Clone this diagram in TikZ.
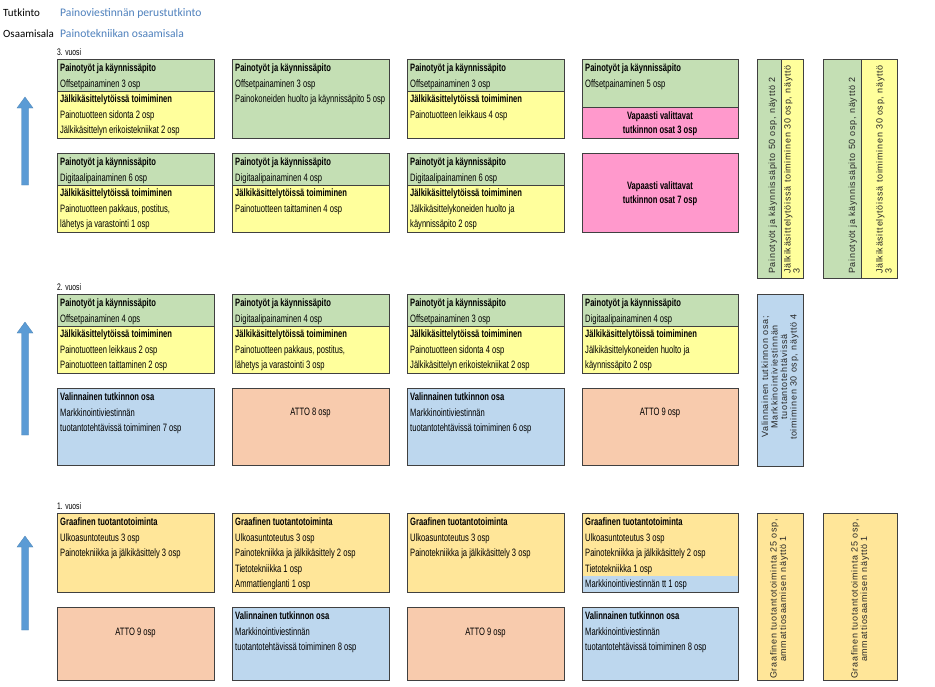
\documentclass[tikz,border=0pt]{standalone}
\usepackage{fontspec}
\setmainfont{Liberation Sans}
\newfontfamily\narrowfont[FakeStretch=0.71]{Liberation Sans}
\newfontfamily\vfont[LetterSpace=8]{Liberation Sans}
\newfontfamily\calibfont{Carlito}
\definecolor{grn}{HTML}{C4DFB4}
\definecolor{ylw}{HTML}{FFFF9C}
\definecolor{pnk}{HTML}{FF99CC}
\definecolor{lblue}{HTML}{BDD7EE}
\definecolor{peach}{HTML}{F8CBAD}
\definecolor{gold}{HTML}{FFE699}
\definecolor{arrowblue}{HTML}{5B9BD5}
\definecolor{titleblue}{HTML}{4F81BD}
\definecolor{edge}{HTML}{404040}
\newcommand\boxlines[4]{%
  \foreach \t [count=\i] in {#4} {
    \node[txt] (#1-\i) at (#2, {#3+15.5*(\i-1)}) {\t};
  }%
}
\begin{document}
\begin{tikzpicture}[x=1pt,y=-1pt,
  txt/.style={anchor=west,inner sep=0pt,font=\narrowfont\fontsize{10.7}{12}\selectfont,text height=8.5pt,text depth=1.5pt},
  ctxt/.style={txt,anchor=center},
  vtxt/.style={inner sep=0pt,font=\vfont\fontsize{9}{10}\selectfont,text=black!85,text height=6.5pt,text depth=1.5pt,rotate=90},
  frame/.style={draw=edge,line width=0.9pt},
  yearlbl/.style={anchor=west,inner sep=0pt,font=\narrowfont\fontsize{9.5}{11}\selectfont},
  hdr/.style={anchor=west,inner sep=0pt,font=\calibfont\fontsize{11}{13}\selectfont},
  hdrb/.style={hdr,font=\calibfont\fontsize{11.6}{13}\selectfont,text=titleblue},
  uparrow/.style={fill=arrowblue,draw=arrowblue!85!black,line width=0.3pt}
]
\useasboundingbox (0,0) rectangle (935,686);
\fill[white] (0,0) rectangle (935,686);

% header
\node[hdr] (h1) at (3,13) {Tutkinto};
\node[hdrb] (h2) at (60,13) {Painoviestinnän perustutkinto};
\node[hdr] (h3) at (3,34) {Osaamisala};
\node[hdrb] (h4) at (60,34) {Painotekniikan osaamisala};

% year labels
\node[yearlbl] (y3) at (57,52) {3. vuosi};
\node[yearlbl] (y2) at (57,287) {2. vuosi};
\node[yearlbl] (y1) at (57,506) {1. vuosi};

% arrows
\foreach \nm/\top/\bot in {a3/97/185, a2/322/435, a1/536/630} {
  \filldraw[uparrow] (21.5,\bot) -- (21.5,\top+11) -- (17,\top+11) -- (25,\top) -- (33,\top+11) -- (28.5,\top+11) -- (28.5,\bot) -- cycle;
}

% ================= YEAR 3 =================
% row A
\fill[grn] (57,59) rectangle (214,91); \fill[ylw] (57,91) rectangle (214,138);
\draw[frame] (57,91) -- (214,91); \draw[frame] (57,59) rectangle (214,138);
\boxlines{r3a1}{60}{68}{\textbf{Painotyöt ja käynnissäpito},Offsetpainaminen 3 osp,\textbf{Jälkikäsittelytöissä toimiminen},Painotuotteen sidonta 2 osp,Jälkikäsittelyn erikoistekniikat 2 osp}

\fill[grn] (232,59) rectangle (389,138); \draw[frame] (232,59) rectangle (389,138);
\boxlines{r3a2}{235}{68}{\textbf{Painotyöt ja käynnissäpito},Offsetpainaminen 3 osp,Painokoneiden huolto ja käynnissäpito 5 osp}

\fill[grn] (407,59) rectangle (564,91); \fill[ylw] (407,91) rectangle (564,138);
\draw[frame] (407,91) -- (564,91); \draw[frame] (407,59) rectangle (564,138);
\boxlines{r3a3}{410}{68}{\textbf{Painotyöt ja käynnissäpito},Offsetpainaminen 3 osp,\textbf{Jälkikäsittelytöissä toimiminen},Painotuotteen leikkaus 4 osp}

\fill[grn] (582,59) rectangle (738,107); \fill[pnk] (582,107) rectangle (738,138);
\draw[frame] (582,107) -- (738,107); \draw[frame] (582,59) rectangle (738,138);
\boxlines{r3a4}{585}{68}{\textbf{Painotyöt ja käynnissäpito},Offsetpainaminen 5 osp}
\node[ctxt] (r3a4p1) at (660,115.5) {\textbf{Vapaasti valittavat}};
\node[ctxt] (r3a4p2) at (660,129.5) {\textbf{tutkinnon osat 3 osp}};

% row B
\fill[grn] (57,153) rectangle (214,185); \fill[ylw] (57,185) rectangle (214,232);
\draw[frame] (57,185) -- (214,185); \draw[frame] (57,153) rectangle (214,232);
\boxlines{r3b1}{60}{162}{\textbf{Painotyöt ja käynnissäpito},Digitaalipainaminen 6 osp,\textbf{Jälkikäsittelytöissä toimiminen},{Painotuotteen pakkaus, postitus,},lähetys ja varastointi 1 osp}

\fill[grn] (232,153) rectangle (389,185); \fill[ylw] (232,185) rectangle (389,232);
\draw[frame] (232,185) -- (389,185); \draw[frame] (232,153) rectangle (389,232);
\boxlines{r3b2}{235}{162}{\textbf{Painotyöt ja käynnissäpito},Digitaalipainaminen 4 osp,\textbf{Jälkikäsittelytöissä toimiminen},Painotuotteen taittaminen 4 osp}

\fill[grn] (407,153) rectangle (564,185); \fill[ylw] (407,185) rectangle (564,232);
\draw[frame] (407,185) -- (564,185); \draw[frame] (407,153) rectangle (564,232);
\boxlines{r3b3}{410}{162}{\textbf{Painotyöt ja käynnissäpito},Digitaalipainaminen 6 osp,\textbf{Jälkikäsittelytöissä toimiminen},Jälkikäsittelykoneiden huolto ja,käynnissäpito 2 osp}

\fill[pnk] (582,153) rectangle (738,232); \draw[frame] (582,153) rectangle (738,232);
\node[ctxt] (r3b4p1) at (660,186) {\textbf{Vapaasti valittavat}};
\node[ctxt] (r3b4p2) at (660,200) {\textbf{tutkinnon osat 7 osp}};

% ================= YEAR 2 =================
\fill[grn] (57,294) rectangle (214,326); \fill[ylw] (57,326) rectangle (214,373);
\draw[frame] (57,326) -- (214,326); \draw[frame] (57,294) rectangle (214,373);
\boxlines{r2a1}{60}{303}{\textbf{Painotyöt ja käynnissäpito},Offsetpainaminen 4 ops,\textbf{Jälkikäsittelytöissä toimiminen},Painotuotteen leikkaus 2 osp,Painotuotteen taittaminen 2 osp}

\fill[grn] (232,294) rectangle (389,326); \fill[ylw] (232,326) rectangle (389,373);
\draw[frame] (232,326) -- (389,326); \draw[frame] (232,294) rectangle (389,373);
\boxlines{r2a2}{235}{303}{\textbf{Painotyöt ja käynnissäpito},Digitaalipainaminen 4 osp,\textbf{Jälkikäsittelytöissä toimiminen},{Painotuotteen pakkaus, postitus,},lähetys ja varastointi 3 osp}

\fill[grn] (407,294) rectangle (564,326); \fill[ylw] (407,326) rectangle (564,373);
\draw[frame] (407,326) -- (564,326); \draw[frame] (407,294) rectangle (564,373);
\boxlines{r2a3}{410}{303}{\textbf{Painotyöt ja käynnissäpito},Offsetpainaminen 3 osp,\textbf{Jälkikäsittelytöissä toimiminen},Painotuotteen sidonta 4 osp,Jälkikäsittelyn erikoistekniikat 2 osp}

\fill[grn] (582,294) rectangle (738,326); \fill[ylw] (582,326) rectangle (738,373);
\draw[frame] (582,326) -- (738,326); \draw[frame] (582,294) rectangle (738,373);
\boxlines{r2a4}{585}{303}{\textbf{Painotyöt ja käynnissäpito},Digitaalipainaminen 4 osp,\textbf{Jälkikäsittelytöissä toimiminen},Jälkikäsittelykoneiden huolto ja,käynnissäpito 2 osp}

\filldraw[frame,fill=lblue] (57,388) rectangle (214,465);
\boxlines{r2b1}{60}{397}{\textbf{Valinnainen tutkinnon osa},Markkinointiviestinnän,tuotantotehtävissä toimiminen 7 osp}
\filldraw[frame,fill=peach] (232,388) rectangle (389,465);
\node[ctxt] (r2b2) at (310.5,412) {ATTO 8 osp};
\filldraw[frame,fill=lblue] (407,388) rectangle (564,465);
\boxlines{r2b3}{410}{397}{\textbf{Valinnainen tutkinnon osa},Markkinointiviestinnän,tuotantotehtävissä toimiminen 6 osp}
\filldraw[frame,fill=peach] (582,388) rectangle (738,465);
\node[ctxt] (r2b4) at (660,412) {ATTO 9 osp};

% ================= YEAR 1 =================
\filldraw[frame,fill=gold] (57,513) rectangle (214,592);
\boxlines{r1a1}{60}{522}{\textbf{Graafinen tuotantotoiminta},Ulkoasuntoteutus 3 osp,Painotekniikka ja jälkikäsittely 3 osp}
\filldraw[frame,fill=gold] (232,513) rectangle (389,592);
\boxlines{r1a2}{235}{522}{\textbf{Graafinen tuotantotoiminta},Ulkoasuntoteutus 3 osp,Painotekniikka ja jälkikäsittely 2 osp,Tietotekniikka 1 osp,Ammattienglanti 1 osp}
\filldraw[frame,fill=gold] (407,513) rectangle (564,592);
\boxlines{r1a3}{410}{522}{\textbf{Graafinen tuotantotoiminta},Ulkoasuntoteutus 3 osp,Painotekniikka ja jälkikäsittely 3 osp}
\fill[gold] (582,513) rectangle (738,576); \fill[lblue] (582,576) rectangle (738,592);
\draw[frame] (582,513) rectangle (738,592);
\boxlines{r1a4}{585}{522}{\textbf{Graafinen tuotantotoiminta},Ulkoasuntoteutus 3 osp,Painotekniikka ja jälkikäsittely 2 osp,Tietotekniikka 1 osp,Markkinointiviestinnän tt 1 osp}

\filldraw[frame,fill=peach] (57,607) rectangle (214,680);
\node[ctxt] (r1b1) at (135.5,632) {ATTO 9 osp};
\filldraw[frame,fill=lblue] (232,607) rectangle (389,680);
\boxlines{r1b2}{235}{616}{\textbf{Valinnainen tutkinnon osa},Markkinointiviestinnän,tuotantotehtävissä toimiminen 8 osp}
\filldraw[frame,fill=peach] (407,607) rectangle (564,680);
\node[ctxt] (r1b3) at (485.5,632) {ATTO 9 osp};
\filldraw[frame,fill=lblue] (582,607) rectangle (738,680);
\boxlines{r1b4}{585}{616}{\textbf{Valinnainen tutkinnon osa},Markkinointiviestinnän,tuotantotehtävissä toimiminen 8 osp}

% ================= VERTICAL SUMMARY BOXES =================
\fill[grn] (757,59) rectangle (781,278); \fill[ylw] (781,59) rectangle (803,278);
\draw[frame] (781,59) -- (781,278); \draw[frame] (757,59) rectangle (803,278);
\node[vtxt,anchor=west] (v1a) at (772.5,274) {Painotyöt ja käynnissäpito 50 osp, näyttö 2};
\node[vtxt,anchor=west] (v1b) at (788,274) {Jälkikäsittelytöissä toimiminen 30 osp, näyttö};
\node[vtxt,anchor=west] (v1c) at (797,274) {3};

\fill[grn] (823,59) rectangle (861,278); \fill[ylw] (861,59) rectangle (897,278);
\draw[frame] (861,59) -- (861,278); \draw[frame] (823,59) rectangle (897,278);
\node[vtxt,anchor=west] (v2a) at (852.5,274) {Painotyöt ja käynnissäpito 50 osp, näyttö 2};
\node[vtxt,anchor=west] (v2b) at (880,274) {Jälkikäsittelytöissä toimiminen 30 osp, näyttö};
\node[vtxt,anchor=west] (v2c) at (889,274) {3};

\filldraw[frame,fill=lblue] (757,294) rectangle (803,466);
\node[vtxt] (v3a) at (765.5,377) {Valinnainen tutkinnon osa;};
\node[vtxt] (v3b) at (775,377) {Markkinointiviestinnän};
\node[vtxt] (v3c) at (784.5,377) {tuotantotehtävissä};
\node[vtxt] (v3d) at (794,377) {toimiminen 30 osp, näyttö 4};

\filldraw[frame,fill=gold] (757,513) rectangle (803,680);
\node[vtxt] (v4a) at (774,599) {Graafinen tuotantotoiminta 25 osp,};
\node[vtxt] (v4b) at (783.5,599) {ammattiosaamisen näyttö 1};

\filldraw[frame,fill=gold] (823,513) rectangle (897,680);
\node[vtxt] (v5a) at (855,599) {Graafinen tuotantotoiminta 25 osp,};
\node[vtxt] (v5b) at (864.5,599) {ammattiosaamisen näyttö 1};
\end{tikzpicture}
\end{document}
